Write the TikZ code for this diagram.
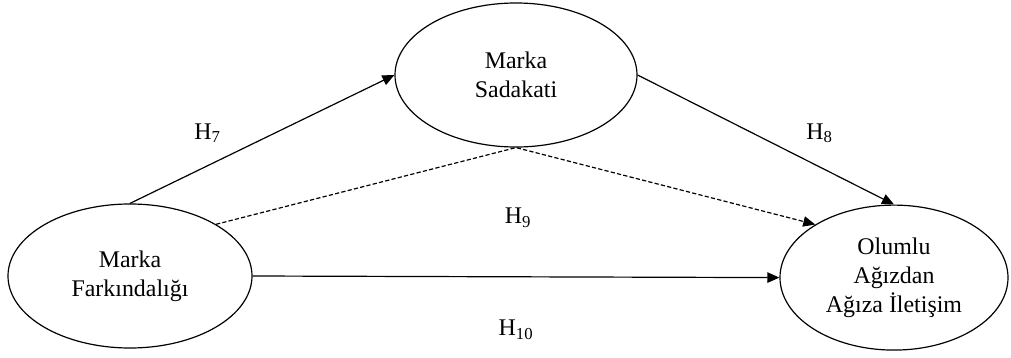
\documentclass[tikz,border=0pt]{standalone}
\usepackage{fontspec}
\setmainfont{Liberation Serif}
\usepackage{tikz}
\usetikzlibrary{positioning, calc, shapes.geometric, arrows.meta}

\begin{document}
\begin{tikzpicture}[
    construct/.style={ellipse, draw, line width=0.85pt, inner sep=0pt, align=center,
                      font=\fontsize{17}{20.5}\selectfont},
    hyplabel/.style={inner sep=0pt, font=\fontsize{17}{20.5}\selectfont},
    link/.style={line width=0.85pt, -{Triangle[length=3mm, width=2.6mm]}},
    indirect/.style={link, dash pattern=on 3pt off 1.6pt},
  ]
    \useasboundingbox (0,0) rectangle (25.275,-8.95);

    % constructs
    \node[construct, minimum width=6.05cm, minimum height=3.6cm] (SAD) at (12.9,-1.875) {Marka\\Sadakati};
    \node[construct, minimum width=6.1cm, minimum height=3.6cm] (FAR) at (3.25,-6.9) {Marka\\Farkındalığı};
    \node[construct, minimum width=5.7cm, minimum height=3.625cm] (OAI) at (22.35,-6.94) {Olumlu\\Ağızdan\\Ağıza İletişim};

    % hypotheses
    \draw[link] (FAR.north) -- (SAD.west);
    \draw[link] (SAD.east) -- (OAI.north);
    \draw[indirect] (FAR.31) -- (SAD.south) -- (OAI.146);
    \draw[link] (FAR.east) -- (OAI.west);

    \node[hyplabel] (H7) at (5.19,-3.33) {H\textsubscript{7}};
    \node[hyplabel] (H8) at (20.49,-3.33) {H\textsubscript{8}};
    \node[hyplabel] (H9) at (12.95,-5.45) {H\textsubscript{9}};
    \node[hyplabel] (H10) at (12.9,-8.24) {H\textsubscript{10}};
  \end{tikzpicture}
\end{document}
